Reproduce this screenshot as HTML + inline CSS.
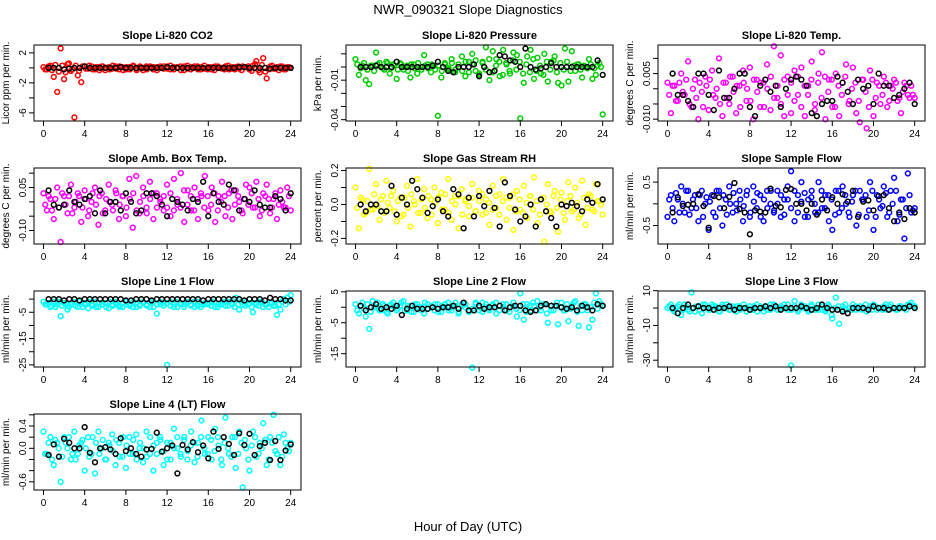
<!DOCTYPE html>
<html><head><meta charset="utf-8"><style>
html,body{margin:0;padding:0;background:#fff;}
svg{display:block;font-family:"Liberation Sans",sans-serif;}
</style></head><body>
<svg id="chart" width="936" height="540" viewBox="0 0 936 540" xmlns="http://www.w3.org/2000/svg">
<text x="468" y="14" font-size="13" text-anchor="middle">NWR_090321  Slope Diagnostics</text>
<text x="468" y="531" font-size="13" text-anchor="middle">Hour of Day (UTC)</text>
</svg>
<script>
const xTicks=[0,4,8,12,16,20,24];
const co2Values=[0.1,-0.2,0.3,-1.2,-3.2,2.6,-1.5,0.5,-0.4,-6.6,-1.0,-1.9,0.2,-0.1,0.2,-0.2,0.1,0.2,-0.3,0.1,-0.1,0.2,-0.2,0.1,-0.2,0.1,0.2,-0.1,0.1,-0.3,0.2,0.1,-0.2,0.1,0.2,-0.1,0.2,-0.2,0.1,0.1,-0.3,0.2,-0.1,0.1,0.2,-0.2,0.1,-0.1,0.1,-0.2,0.2,0.1,-0.1,0.2,-0.2,0.1,0.1,-0.1,0.2,0.1,-0.2,0.3,0.9,-0.6,1.3,-1.4,0.2,-0.1,0.1,0.2,-0.2,0.1,0.0];
const co2Values2=[-0.2,0.2,-0.3,0.4,-0.5,0.3,-0.6,0.6,-0.2,0.3,-0.4,0.2,-0.1,0.3,-0.2,0.1,-0.3,0.2,0.0,-0.2,0.3,-0.1,0.2,-0.3,0.1,-0.2,0.3,-0.3,0.2,0.0,-0.2,0.2,0.1,-0.3,0.0,0.2,-0.1,0.3,-0.2,0.0,0.2,-0.3,0.3,-0.2,0.0,0.2,-0.2,0.3,-0.2,0.1,-0.3,0.2,0.0,-0.2,0.3,-0.1,-0.2,0.2,-0.3,0.1,0.2,-0.4,0.5,-0.3,0.4,-0.5,-0.2,0.3,-0.1,-0.3,0.2,-0.2,0.1];
const co2Black=[0,0,0,-0.2,-0.1,0,0,0.2,0,0,0,0,0,0,0.1,0,0,0,0,0,0,0,0,0.1,0,0,0,0,0,0,0,0,0,0,0,0,0,0.1,0.1,0,0,0,0,-0.1,0,0,0,0];
const co2Ticks=[2,0,-2,-4,-6];
const co2TickLabels=['2','','-2','','-6'];
const presValues=[0.006,-0.006,0.001,-0.010,-0.013,0.001,0.011,0.003,-0.001,0.004,-0.005,0.002,-0.009,0.003,-0.002,0.001,-0.008,0.002,-0.005,0.000,0.009,0.002,-0.004,0.001,-0.037,-0.008,0.003,-0.002,0.006,-0.004,0.002,0.008,-0.007,0.004,0.010,-0.003,-0.006,0.004,0.015,-0.010,0.012,0.006,-0.007,0.013,0.002,-0.005,0.011,0.009,-0.039,-0.012,0.008,0.013,-0.009,0.007,-0.005,0.010,-0.011,0.004,0.008,-0.012,-0.014,0.014,-0.011,0.012,-0.003,0.002,-0.008,0.000,0.006,-0.009,-0.006,0.003,-0.036];
const presValues2=[0.002,-0.001,0.003,-0.002,0.001,-0.003,0.002,0.000,-0.002,0.003,-0.001,0.001,-0.002,0.002,0.000,-0.003,0.002,-0.001,0.003,-0.002,0.001,-0.001,0.002,-0.002,0.001,-0.003,0.002,-0.001,0.003,-0.002,0.000,-0.003,0.004,-0.004,0.002,0.005,-0.005,0.003,-0.002,0.006,-0.004,0.001,0.004,-0.006,0.003,-0.003,0.005,-0.002,0.004,-0.005,0.002,-0.004,0.006,-0.003,0.001,-0.006,0.004,-0.002,0.005,-0.004,0.003,-0.002,0.004,-0.003,0.001,0.002,-0.002,0.001,-0.001,0.002,-0.001,0.001,0.000];
const presBlack=[0,0,0,0.001,0,0,0,0.004,0,0,0,0,0,0,0.001,0.004,0,-0.003,-0.004,0,0,0,0.002,-0.007,0,-0.004,-0.003,0.009,0.008,0.005,0.004,0.000,0.014,0,-0.002,-0.001,0,0.003,0,0,0,0,0,0,0,0,0.005,-0.006];
const presTicks=[0.01,0,-0.01,-0.02,-0.03,-0.04];
const presTickLabels=['','','-0.01','','','-0.04'];
const tempValues=[0.002,-0.008,0.001,-0.004,0.005,-0.002,0.009,-0.006,0.003,-0.010,-0.001,0.004,-0.007,0.006,-0.003,0.010,-0.009,0.002,-0.005,0.004,-0.008,0.001,0.006,-0.004,0.007,-0.010,0.003,-0.006,0.002,0.008,-0.007,0.014,-0.003,0.011,-0.009,0.004,-0.008,0.006,-0.002,0.007,-0.009,0.001,0.009,-0.005,0.005,0.012,-0.010,0.003,-0.006,0.005,-0.009,0.002,0.008,-0.004,0.007,-0.008,-0.011,0.003,-0.013,0.006,-0.009,0.002,-0.005,0.004,-0.006,0.001,0.003,-0.004,-0.008,0.002,-0.002,0.001,-0.003];
const tempValues2=[-0.002,0.001,-0.004,0.002,-0.001,0.003,-0.005,0.000,-0.003,0.002,-0.006,0.001,0.003,-0.002,0.000,-0.005,0.002,-0.003,0.004,-0.001,0.001,-0.006,0.002,0.000,-0.004,0.003,-0.001,0.002,-0.006,0.000,0.004,-0.003,0.001,-0.005,0.003,-0.002,0.002,-0.004,0.004,-0.006,0.001,-0.002,0.003,-0.007,0.002,-0.003,0.004,-0.001,0.003,-0.006,0.001,-0.002,0.004,-0.005,0.000,0.002,-0.004,0.003,-0.001,-0.006,0.003,-0.003,0.001,-0.002,0.002,-0.004,0.000,0.002,-0.003,-0.001,0.001,-0.003,-0.002];
const tempBlack=[0.005,-0.002,-0.002,-0.004,-0.006,0.005,0.005,-0.002,-0.007,0.006,-0.003,-0.003,0.000,0.005,0.005,-0.006,-0.009,0.001,0.003,-0.001,0.001,-0.006,0.000,0.003,0.004,0.003,0.001,-0.008,-0.009,-0.005,-0.004,-0.004,0.004,0.002,-0.001,-0.005,0.003,0.000,0.001,-0.005,0.005,0.001,0.001,-0.003,-0.002,0.000,0.002,-0.005];
const tempTicks=[0.01,0.005,0,-0.005,-0.01];
const tempTickLabels=['','0.005','','','-0.010'];
const ambValues=[0.03,-0.03,0.01,-0.06,0.05,-0.14,0.02,-0.04,0.06,-0.02,0.03,-0.07,0.04,-0.05,0.00,0.05,-0.08,0.03,-0.03,0.06,-0.01,0.04,-0.06,0.02,-0.05,0.08,-0.09,0.09,-0.04,0.05,-0.02,0.07,-0.06,0.03,0.01,-0.03,0.06,-0.05,0.08,-0.01,0.10,-0.07,0.04,-0.03,0.05,-0.06,0.02,0.09,-0.03,0.05,-0.07,0.02,0.07,-0.05,0.03,-0.06,0.04,0.00,-0.04,0.06,0.05,-0.02,0.07,-0.05,0.03,0.06,-0.04,0.01,-0.06,0.04,-0.02,0.05,-0.03];
const ambValues2=[-0.01,0.02,-0.03,0.01,-0.02,0.03,-0.01,0.02,-0.04,0.00,0.02,-0.02,0.01,-0.03,0.03,-0.01,0.02,-0.04,0.01,0.00,-0.03,0.03,-0.01,0.02,-0.02,0.01,0.03,-0.03,0.00,0.02,-0.04,0.01,0.03,-0.02,0.00,0.02,-0.02,0.03,-0.03,0.01,-0.02,0.04,-0.01,0.02,-0.03,0.01,0.03,-0.02,0.02,-0.01,0.03,-0.03,0.00,0.02,-0.02,0.04,-0.01,0.02,-0.03,0.01,-0.01,0.03,-0.02,0.01,-0.03,0.02,0.01,-0.02,0.03,-0.01,0.00,-0.02,0.02];
const ambBlack=[0.04,-0.01,-0.02,-0.01,0.04,0.00,-0.01,0.01,0.02,-0.04,0.04,-0.04,0.00,0.00,-0.03,0.03,0.00,-0.04,-0.03,0.03,0.03,0.02,-0.01,-0.05,0.01,0.00,-0.01,-0.03,0.01,0.00,0.07,-0.05,0.03,0.00,-0.01,0.06,0.04,-0.03,0.01,0.00,0.04,-0.01,-0.02,-0.02,0.02,0.01,-0.03,0.03];
const ambTicks=[0.1,0.05,0,-0.05,-0.1];
const ambTickLabels=['','0.05','','','-0.10'];
const rhValues=[0.10,-0.14,0.03,-0.05,0.21,-0.03,0.12,-0.09,0.05,0.14,-0.02,0.08,-0.10,0.04,-0.06,0.11,-0.13,0.02,0.15,-0.05,0.09,-0.08,0.03,0.10,-0.11,0.07,-0.03,0.15,-0.09,0.05,-0.14,0.09,0.02,-0.07,0.12,-0.04,0.08,-0.06,0.03,-0.12,0.11,-0.02,0.06,0.15,-0.09,0.04,-0.15,0.08,-0.03,0.11,-0.08,0.05,0.16,-0.11,0.03,-0.22,0.12,-0.05,0.08,-0.16,0.07,-0.09,0.13,-0.04,0.10,-0.08,0.14,-0.12,0.06,-0.03,0.12,0.02,-0.06];
const rhValues2=[-0.02,0.04,-0.06,0.02,-0.03,0.06,-0.01,0.03,-0.05,0.01,0.05,-0.04,0.02,-0.07,0.04,-0.02,0.06,0.00,-0.05,0.03,-0.02,0.05,-0.06,0.01,0.04,-0.03,0.06,-0.05,0.02,0.00,0.05,-0.06,0.03,-0.01,0.04,-0.04,0.02,0.06,-0.05,0.01,-0.03,0.05,-0.06,0.02,0.04,-0.02,0.06,-0.04,0.03,-0.05,0.01,0.05,-0.03,0.02,-0.06,0.04,0.00,-0.04,0.05,-0.02,0.03,-0.05,0.02,0.05,-0.03,0.01,-0.06,0.04,-0.02,0.05,-0.04,0.02,0.00];
const rhBlack=[0.00,-0.04,0.00,0.00,-0.04,-0.04,0.11,-0.06,0.04,0.00,0.14,0.09,0.04,-0.05,-0.01,0.03,-0.04,-0.07,0.09,0.06,-0.14,0.04,-0.07,0.05,-0.01,0.08,-0.02,-0.13,0.13,0.05,-0.03,-0.10,-0.07,0.00,-0.13,0.03,-0.04,-0.08,-0.13,0.00,-0.01,0.01,-0.01,-0.04,0.03,0.01,0.12,0.03];
const rhTicks=[0.2,0.1,0,-0.1,-0.2];
const rhTickLabels=['0.2','','0.0','','-0.2'];
const sampValues=[-0.3,0.2,-0.4,0.1,0.4,-0.2,0.3,-0.1,0.2,-0.4,0.3,0.0,-0.6,0.2,-0.3,0.3,-0.5,0.1,0.4,-0.2,0.0,0.3,-0.4,0.2,-0.3,0.4,-0.1,0.2,-0.4,0.3,0.0,-0.2,0.3,-0.3,0.1,0.4,0.75,-0.4,0.2,0.5,-0.3,0.1,0.3,-0.2,0.5,-0.1,0.2,-0.4,-0.6,0.3,-0.2,0.4,0.0,-0.3,0.2,-0.5,0.3,0.1,-0.3,0.5,-0.6,0.2,-0.1,0.4,-0.3,0.3,0.6,-0.4,0.1,-0.8,0.7,-0.2,-0.1];
const sampValues2=[0.1,-0.1,0.25,-0.2,0.0,0.3,-0.25,0.1,-0.1,0.2,-0.3,0.15,0.05,-0.2,0.3,-0.1,0.2,-0.25,0.0,0.25,-0.15,0.1,-0.05,0.3,-0.2,0.05,0.25,-0.3,0.1,-0.1,0.3,-0.15,0.0,0.2,-0.25,0.1,-0.1,0.3,-0.2,0.05,0.25,-0.3,0.15,0.0,-0.2,0.3,-0.1,0.2,0.1,-0.25,0.3,-0.1,0.2,-0.2,0.05,0.3,-0.25,0.1,0.2,-0.15,0.3,-0.3,0.1,-0.05,0.25,-0.2,0.0,0.3,-0.25,0.1,-0.1,0.2,-0.15];
const sampBlack=[-0.2,0.15,-0.05,-0.02,0.00,0.22,-0.05,-0.55,0.18,0.15,-0.1,0.16,0.48,-0.12,-0.2,-0.7,-0.15,-0.18,-0.2,0.35,-0.05,-0.08,0.32,0.34,0.0,0.0,-0.15,0.0,-0.25,0.1,-0.15,0.15,0.0,0.22,0.05,0.3,-0.3,0.05,0.08,-0.15,0.18,0.2,-0.1,-0.4,-0.2,-0.35,-0.1,-0.2];
const sampTicks=[0.5,0,-0.5];
const sampTickLabels=['0.5','','-0.5'];
const l1Values=[-1,-2,-3,-1,-2,-6.5,-1.5,-4,-2,-1,-3,-2,-1.5,-3.5,-2,-1,-3,-2,-1.5,-3.5,-2,-1,-2.5,-3,-1,-2,-3,-1.5,-2.5,-1,-2,-3,-1,-5.5,-2,-1.5,-25,-1,-2,-3,-1.5,-2,-1,-2.5,-3,-1,-2,-1.5,-2,-1,-3,-2,-1.5,-2.5,-1,-2,0.5,-4,-2,-1,-1.5,-5,-2,-1,-3,-2,-1.5,-2.5,-6,-4,0,0.5,1.5];
const l1Values2=[-2,-1.5,-2.5,-3,-1,-2.5,-2,-3,-1.5,-2.5,-1,-3,-2,-1,-2.5,-3,-1.5,-2,-3,-1,-2.5,-2,-3,-1.5,-2,-2.5,-1,-3,-2,-1.5,-2.5,-1,-3,-2,-1,-2.5,-1.5,-2.5,-3,-1,-2,-3,-1.5,-2,-1,-2.5,-3,-2,-1.5,-2.5,-1,-3,-2,-1,-2.5,-1.5,-3,-2,-1,-2.5,-2,-3,-1.5,-2.5,-1,-2,-3,-1.5,-2.5,-2,-1,-2,-1];
const l1Black=[0,0,0,-0.5,0,0,-0.5,0,0,0,0,0,0,0,0,-0.5,-0.5,0,0,0,-0.5,0,0,0,0,0,0,0,0,0,-0.5,0,0,0,0,0,0,0,-0.5,0,0,0,-0.5,0.5,0,0,-0.5,-0.5];
const l1Ticks=[0,-5,-10,-15,-20,-25];
const l1TickLabels=['','-5','','-15','','-25'];
const l2Values=[1,-2,1.5,-3,-7,2,0,-1,1,-1.5,0.5,1.5,-1,0.5,2,-1,0.5,-1.5,1,0,-2,1,0.5,-1,1,-1.5,0,1.5,-1,0.5,-2,1,0,-1.5,-19.5,1,-1,1.5,0,-1,1,-2,0.5,1,-1,0,1.5,-3,4.5,-4,1,-1,0.5,2,-1,1,-5,-1,0.5,-5.5,1.5,-1,-4.5,0.5,2,-6,-1,1,-6.5,-4,4.5,2,0.5];
const l2Values2=[-1,0.5,-0.5,1,-1.5,0,1.5,-1,0.5,-2,1,0,-0.5,1.5,-1,0.5,-1.5,1,0,-1,1.5,-0.5,0,1,-1.5,0.5,1,-1,0,1.5,-1.5,0.5,1,-1,-0.5,1.5,0,-1.5,1,-0.5,0.5,1.5,-1,0,1,-1.5,0.5,-0.5,-1,1,-1.5,0.5,1.5,-1,0,1,-2,0.5,-1,1.5,0,-1,1,-0.5,1.5,-1.5,0.5,1,-1,0,1.5,-0.5,1];
const l2Black=[0.5,-1,0,1,-0.5,0,-0.5,0.5,-2.5,-0.5,0.5,-0.5,-0.5,-0.5,0,-0.5,0,0,0.5,-0.5,1.5,-1,-1,0.5,-0.5,0,0,0.5,-1,0,0.5,0.5,-1,-1.5,-1,0.5,1,0.5,0.5,0,-0.5,0,-1,0.5,0,-1,1,0.5];
const l2Ticks=[5,0,-5,-10,-15];
const l2TickLabels=['5','','-5','','-15'];
const l3Values=[0,2,-2,1,-4,2,-1,9,-2,1,-3,2,-1,2,1,-2,2,0,-1,1,-2,1,0,-2,1,-1,2,0,-2,1,-1,2,-1,0,2,-1,-33,4,-1,2,0,-2,1,-1,2,-1,-2,1,-6,6,-9,1,-1,0,2,-1,1,0,-2,1,2,-1,0,1,-1,2,0,-1,1,0,2,3,1];
const l3Values2=[1,-1,0,2,-1,1,-2,0,1,-1,2,0,-1,1,0,-2,1,2,-1,0,1,-1,2,0,-1,1,-2,1,0,-1,2,0,-1,1,0,2,-1,1,-2,0,1,-1,2,0,-1,1,-1,2,-4,0,1,-1,2,0,-1,1,0,-1,2,0,-1,1,0,-1,2,1,0,-1,1,0,-1,2,1];
const l3Black=[0,-3,0,2,0,1,0,0,-1,0,0,1,-1,0,0,-1,0,0,1,0,1,-1,0,0,0,1,0,-1,0,2,0,-1,-1,-2,-3,0,0,0,-1,1,0,0,-1,0,0,0,1,0];
const l3Ticks=[10,0,-10,-20,-30];
const l3TickLabels=['10','','-10','','-30'];
const l4Values=[0.3,-0.1,0.2,-0.3,0.1,-0.6,0.2,0.0,-0.2,0.3,-0.1,0.1,-0.4,0.2,-0.1,-0.45,0.3,0.0,-0.2,0.1,0.25,-0.3,0.1,-0.15,-0.35,0.2,-0.1,0.25,0.0,-0.25,0.3,-0.1,-0.4,0.1,0.2,-0.3,0.1,-0.2,0.35,0.0,-0.15,0.2,-0.05,0.3,-0.25,0.1,0.5,-0.1,0.2,-0.2,0.35,0.05,-0.3,0.55,-0.1,0.2,-0.35,0.3,-0.7,0.0,-0.4,0.3,-0.15,0.1,0.45,-0.3,0.2,0.6,-0.1,-0.3,0.25,0.0,0.1];
const l4Values2=[-0.1,0.1,-0.2,0.15,0.0,-0.15,0.1,0.2,-0.1,-0.2,0.05,0.15,0.0,-0.15,0.2,0.1,-0.1,0.15,-0.2,0.05,-0.05,0.15,-0.15,0.2,0.05,-0.1,0.15,-0.2,0.1,0.0,-0.15,0.2,0.05,-0.1,0.15,-0.05,-0.2,0.1,0.0,0.2,-0.1,0.15,-0.2,0.05,0.1,-0.15,0.2,0.0,-0.1,0.15,-0.05,0.2,-0.2,0.1,0.0,-0.15,0.2,-0.1,0.1,0.15,-0.2,0.05,0.2,-0.1,0.0,0.15,-0.2,0.1,-0.05,0.2,-0.15,0.1,-0.05];
const l4Black=[-0.12,0.07,-0.15,0.17,0.1,0.0,0.0,0.38,-0.08,-0.25,0.0,0.02,-0.02,-0.1,0.18,-0.05,0.0,-0.1,-0.15,-0.02,-0.01,0.28,-0.06,0.0,0.05,-0.45,0.06,-0.02,0.11,-0.07,0.05,-0.18,0.3,-0.01,0.2,0.08,-0.12,0.27,0.06,0.26,-0.12,0.04,0.1,-0.21,0.13,-0.21,-0.04,0.07];
const l4Ticks=[0.6,0.4,0.2,0,-0.2,-0.4,-0.6];
const l4TickLabels=['','0.4','','0.0','','','-0.6'];

const panels=[
 {key:'co2',title:'Slope Li-820 CO2',ylab:'Licor ppm per min.',col:0,row:0,color:'#ff0000',vals:co2Values,vals2:co2Values2,blk:co2Black,ticks:co2Ticks,labels:co2TickLabels,dom:[3.05,-7.08]},
 {key:'pressure',title:'Slope Li-820 Pressure',ylab:'kPa per min.',col:1,row:0,color:'#00cc00',vals:presValues,vals2:presValues2,blk:presBlack,ticks:presTicks,labels:presTickLabels,dom:[0.0167,-0.041]},
 {key:'temp',title:'Slope Li-820 Temp.',ylab:'degrees C per min.',col:2,row:0,color:'#ff00ff',vals:tempValues,vals2:tempValues2,blk:tempBlack,ticks:tempTicks,labels:tempTickLabels,dom:[0.0144,-0.0106]},
 {key:'amb-box-temp',title:'Slope Amb. Box Temp.',ylab:'degrees C per min.',col:0,row:1,color:'#ff00ff',vals:ambValues,vals2:ambValues2,blk:ambBlack,ticks:ambTicks,labels:ambTickLabels,dom:[0.118,-0.147]},
 {key:'gas-rh',title:'Slope Gas Stream RH',ylab:'percent per min.',col:1,row:1,color:'#ffff00',vals:rhValues,vals2:rhValues2,blk:rhBlack,ticks:rhTicks,labels:rhTickLabels,dom:[0.215,-0.233]},
 {key:'sample-flow',title:'Slope Sample Flow',ylab:'ml/min per min.',col:2,row:1,color:'#0000ff',vals:sampValues,vals2:sampValues2,blk:sampBlack,ticks:sampTicks,labels:sampTickLabels,dom:[0.825,-0.925]},
 {key:'line1-flow',title:'Slope Line 1 Flow',ylab:'ml/min per min.',col:0,row:2,color:'#00ffff',vals:l1Values,vals2:l1Values2,blk:l1Black,ticks:l1Ticks,labels:l1TickLabels,dom:[3.08,-25.8]},
 {key:'line2-flow',title:'Slope Line 2 Flow',ylab:'ml/min per min.',col:1,row:2,color:'#00ffff',vals:l2Values,vals2:l2Values2,blk:l2Black,ticks:l2Ticks,labels:l2TickLabels,dom:[5.26,-19.3]},
 {key:'line3-flow',title:'Slope Line 3 Flow',ylab:'ml/min per min.',col:2,row:2,color:'#00ffff',vals:l3Values,vals2:l3Values2,blk:l3Black,ticks:l3Ticks,labels:l3TickLabels,dom:[9.8,-33.9]},
 {key:'line4-flow',title:'Slope Line 4 (LT) Flow',ylab:'ml/min per min.',col:0,row:3,color:'#00ffff',vals:l4Values,vals2:l4Values2,blk:l4Black,ticks:l4Ticks,labels:l4TickLabels,dom:[0.615,-0.747]}
];
const NS='http://www.w3.org/2000/svg';
const svg=document.getElementById('chart');
function mk(tag,attrs,parent){const e=document.createElementNS(NS,tag);for(const k in attrs)e.setAttribute(k,attrs[k]);(parent||svg).appendChild(e);return e;}
const colLeft=[34,346,658], rowTop=[45,168,291,414], W=267, H=76;
const XMIN=-0.92, XMAX=25.0;
panels.forEach(p=>{
  const L=colLeft[p.col], T=rowTop[p.row];
  const g=mk('g',{});
  
  
  const xs=v=>L+(v-XMIN)/(XMAX-XMIN)*W;
  const ys=v=>T+(p.dom[0]-v)/(p.dom[0]-p.dom[1])*H;
  const t=mk('text',{x:L+W/2,y:T-6,'font-size':11,'font-weight':'bold','text-anchor':'middle'},g);
  
  
  t.textContent=p.title;
  const yl=mk('text',{transform:`translate(${L-25},${T+H/2}) rotate(-90)`,'font-size':10,'text-anchor':'middle'},g);
  
  
  yl.textContent=p.ylab;
  const pts=mk('g',{fill:'none','stroke-width':1.5},g);
  
  
  const n=p.vals.length;
  p.vals.forEach((v,i)=>{
    const c=mk('circle',{cx:xs(i*24/(n-1)),cy:ys(v),r:2.4,stroke:p.color},pts);
    
    
  });
  const n2=p.vals2.length;
  p.vals2.forEach((v,i)=>{
    const c=mk('circle',{cx:xs(0.17+i*23.66/(n2-1)),cy:ys(v),r:2.4,stroke:p.color},pts);
    
    
  });
  const m=p.blk.length;
  p.blk.forEach((v,i)=>{
    const c=mk('circle',{cx:xs(0.5+i*23.5/(m-1)),cy:ys(v),r:2.4,stroke:'#000'},pts);
    
    
  });
  const box=mk('rect',{x:L,y:T,width:W,height:H,fill:'none',stroke:'#000','stroke-width':1},g);
  
  
  xTicks.forEach(v=>{
    mk('line',{x1:xs(v),x2:xs(v),y1:T+H,y2:T+H+5,stroke:'#000'},g);
    const lb=mk('text',{x:xs(v),y:T+H+16,'font-size':10,'text-anchor':'middle'},g);
    
    
    lb.textContent=v;
  });
  p.ticks.forEach((v,i)=>{
    mk('line',{x1:L-5,x2:L,y1:ys(v),y2:ys(v),stroke:'#000'},g);
    if(p.labels[i]){
      const lb=mk('text',{transform:`translate(${L-8},${ys(v)}) rotate(-90)`,'font-size':10,'text-anchor':'middle'},g);
      
      
      lb.textContent=p.labels[i];
    }
  });
});
</script>
</body></html>
